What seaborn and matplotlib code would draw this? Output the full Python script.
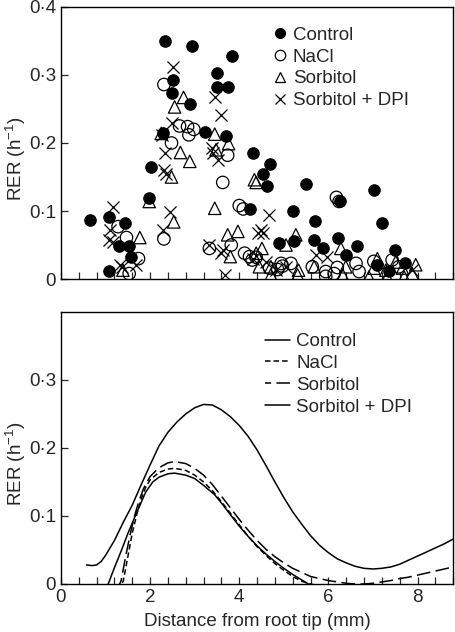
import numpy as np
import pandas as pd
import seaborn as sns
import matplotlib.pyplot as plt
from matplotlib.lines import Line2D
from matplotlib.ticker import MultipleLocator, FixedLocator

sns.set_style('ticks')
plt.rcParams['font.family'] = ['Liberation Sans', 'DejaVu Sans']
plt.rcParams['mathtext.fontset'] = 'custom'
plt.rcParams['mathtext.rm'] = 'Liberation Sans'
plt.rcParams['mathtext.default'] = 'regular'

# ---- top panel: measured RER points ----
control_x = [2.34, 2.94, 3.83, 2.51, 3.51, 3.51, 3.75, 2.48, 2.89, 3.23, 2.29, 3.71, 4.30,
             2.01, 1.98, 0.66, 1.08, 1.44, 1.30, 1.53, 1.57, 1.07, 4.24, 4.69, 4.53, 4.62,
             5.49, 7.02, 6.26, 5.21, 5.70, 7.20, 4.90, 5.23, 5.68, 6.22, 5.87, 6.64, 6.39,
             7.49, 7.73, 7.08, 7.36]
control_y = [0.350, 0.343, 0.328, 0.293, 0.303, 0.282, 0.282, 0.274, 0.257, 0.216, 0.214, 0.211, 0.185,
             0.164, 0.119, 0.087, 0.091, 0.083, 0.049, 0.049, 0.032, 0.012, 0.103, 0.169, 0.154, 0.137,
             0.140, 0.131, 0.115, 0.100, 0.085, 0.083, 0.053, 0.056, 0.058, 0.061, 0.046, 0.048, 0.036,
             0.043, 0.023, 0.020, 0.012]

nacl_x = [2.31, 2.48, 2.66, 2.84, 2.98, 2.87, 3.74, 3.63, 4.00, 4.09, 1.28, 1.47, 1.74, 2.31,
          3.33, 3.82, 4.12, 4.29, 1.53, 6.18, 6.24, 4.38, 4.94, 5.16, 5.94, 6.20, 6.62, 7.02,
          7.43, 7.58, 4.86, 5.64, 5.94, 6.69, 4.23, 4.68, 4.97, 6.13]
nacl_y = [0.286, 0.200, 0.225, 0.224, 0.220, 0.212, 0.182, 0.142, 0.108, 0.103, 0.077, 0.061, 0.030, 0.059,
          0.045, 0.050, 0.038, 0.028, 0.008, 0.120, 0.114, 0.032, 0.023, 0.023, 0.011, 0.017, 0.023, 0.026,
          0.028, 0.018, 0.014, 0.018, 0.004, 0.011, 0.033, 0.016, 0.019, 0.008]

sorb_x = [2.75, 2.55, 2.25, 3.45, 3.76, 2.68, 2.89, 2.48, 3.48, 4.34, 4.38, 1.98, 3.45, 2.53,
          1.77, 3.74, 3.97, 3.80, 1.39, 5.05, 5.27, 4.51, 6.28, 4.71, 5.33, 5.68, 6.39, 7.10,
          7.02, 7.29, 7.66, 7.96, 7.51, 4.71, 5.31, 6.32, 6.91, 7.32, 7.70, 7.88, 4.38, 4.45]
sorb_y = [0.267, 0.253, 0.214, 0.213, 0.199, 0.186, 0.173, 0.150, 0.190, 0.146, 0.142, 0.114, 0.104, 0.084,
          0.061, 0.065, 0.070, 0.033, 0.013, 0.050, 0.065, 0.045, 0.045, 0.018, 0.013, 0.018, 0.018, 0.030,
          0.016, 0.013, 0.016, 0.021, 0.025, 0.006, 0.006, 0.006, 0.003, 0.003, 0.003, 0.008, 0.038, 0.018]

dpi_x = [2.51, 3.45, 3.60, 2.48, 2.27, 2.33, 2.31, 2.36, 3.41, 3.52, 1.17, 2.44, 2.29, 1.10,
         1.08, 3.33, 3.60, 1.32, 3.67, 4.41, 4.66, 4.49, 4.54, 5.97, 5.72, 4.83, 5.05, 7.88,
         4.60, 1.17, 1.69, 1.36, 3.63, 4.30, 3.38]
dpi_y = [0.312, 0.268, 0.241, 0.229, 0.212, 0.185, 0.160, 0.155, 0.185, 0.175, 0.106, 0.099, 0.072, 0.072,
         0.057, 0.050, 0.038, 0.021, 0.006, 0.067, 0.094, 0.072, 0.067, 0.033, 0.035, 0.013, 0.018, 0.013,
         0.025, 0.055, 0.021, 0.018, 0.043, 0.030, 0.192]

# ---- bottom panel: fitted RER curves ----
ctrl_cx = [0.57, 0.7, 0.8, 0.9, 1.0, 1.2, 1.4, 1.6, 1.8, 2.0, 2.2, 2.4, 2.6, 2.8, 3.0, 3.2, 3.4, 3.6,
           3.8, 4.0, 4.2, 4.4, 4.6, 4.8, 5.0, 5.2, 5.4, 5.6, 5.8, 6.0, 6.2, 6.4, 6.6, 6.8, 7.0, 7.2,
           7.4, 7.6, 7.8, 8.0, 8.2, 8.4, 8.6, 8.8]
ctrl_cy = [0.028, 0.027, 0.028, 0.033, 0.042, 0.064, 0.091, 0.116, 0.146, 0.175, 0.203, 0.223, 0.238,
           0.250, 0.259, 0.264, 0.263, 0.256, 0.246, 0.233, 0.217, 0.197, 0.174, 0.150, 0.127, 0.106,
           0.088, 0.071, 0.057, 0.046, 0.037, 0.031, 0.026, 0.023, 0.022, 0.023, 0.025, 0.029, 0.035,
           0.041, 0.047, 0.053, 0.059, 0.066]

nacl_cx = [1.30, 1.40, 1.50, 1.60, 1.70, 1.80, 1.90, 2.00, 2.20, 2.40, 2.55, 2.80, 3.00, 3.20, 3.40,
           3.60, 3.80, 4.00, 4.20, 4.40, 4.60, 4.80, 5.00, 5.20, 5.40, 5.60, 5.80]
nacl_cy = [-0.010, 0.005, 0.040, 0.075, 0.102, 0.125, 0.142, 0.153, 0.164, 0.169, 0.170, 0.167, 0.160,
           0.150, 0.137, 0.121, 0.104, 0.087, 0.070, 0.055, 0.042, 0.030, 0.020, 0.011, 0.004, 0.000, -0.003]

sorb_cx = [1.25, 1.35, 1.45, 1.55, 1.65, 1.75, 1.85, 2.00, 2.20, 2.40, 2.55, 2.80, 3.00, 3.20, 3.40,
           3.60, 3.80, 4.00, 4.20, 4.40, 4.60, 4.80, 5.00, 5.20, 5.40, 5.60, 5.80, 6.00, 6.20, 6.40,
           6.60, 6.80, 7.00, 7.20, 7.40, 7.60, 7.80, 8.00, 8.20, 8.40, 8.60, 8.80]
sorb_cy = [-0.010, 0.005, 0.040, 0.072, 0.100, 0.122, 0.140, 0.158, 0.171, 0.178, 0.180, 0.177, 0.170,
           0.160, 0.146, 0.129, 0.112, 0.095, 0.079, 0.064, 0.051, 0.040, 0.031, 0.023, 0.017, 0.011,
           0.008, 0.005, 0.003, 0.001, 0.000, 0.000, 0.001, 0.003, 0.005, 0.008, 0.010, 0.013, 0.016,
           0.019, 0.022, 0.025]

dpi_cx = [1.00, 1.06, 1.20, 1.36, 1.50, 1.66, 1.80, 1.90, 2.06, 2.20, 2.40, 2.55, 2.80, 3.00, 3.20,
          3.45, 3.60, 3.80, 4.00, 4.20, 4.40, 4.60, 4.80, 5.00, 5.20, 5.40, 5.55, 5.70]
dpi_cy = [-0.010, 0.000, 0.024, 0.050, 0.074, 0.099, 0.120, 0.135, 0.150, 0.157, 0.162, 0.163, 0.160,
          0.155, 0.145, 0.131, 0.119, 0.102, 0.085, 0.070, 0.056, 0.044, 0.033, 0.023, 0.014, 0.006,
          0.000, -0.005]

labels = ['Control', 'NaCl', 'Sorbitol', 'Sorbitol + DPI']
fs = 13.5

fig = plt.figure(figsize=(4.55, 6.32), dpi=100)
ax1 = fig.add_axes([0.134, 0.5585, 0.862, 0.4305])
ax2 = fig.add_axes([0.134, 0.076, 0.862, 0.4305])

# scatter
sns.scatterplot(x=control_x, y=control_y, ax=ax1, marker='o', s=68, color='black', edgecolor='black', linewidth=0.8)
sns.scatterplot(x=nacl_x, y=nacl_y, ax=ax1, marker='o', s=80, facecolor='none', edgecolor='black', linewidth=0.9)
sns.scatterplot(x=sorb_x, y=sorb_y, ax=ax1, marker='^', s=80, facecolor='none', edgecolor='black', linewidth=0.9)
sns.scatterplot(x=dpi_x, y=dpi_y, ax=ax1, marker='x', s=75, color='black', linewidth=0.9)

h1 = [Line2D([], [], ls='none', marker='o', ms=7, mfc='black', mec='black'),
      Line2D([], [], ls='none', marker='o', ms=7.5, mfc='none', mec='black', mew=0.9),
      Line2D([], [], ls='none', marker='^', ms=7.5, mfc='none', mec='black', mew=0.9),
      Line2D([], [], ls='none', marker='x', ms=7, mec='black', mew=0.9)]
ax1.legend(h1, labels, loc='upper left', bbox_to_anchor=(0.51, 0.955), frameon=False,
           fontsize=fs, handletextpad=0.1, labelspacing=0.25, borderaxespad=0, handlelength=1.2)

# curves
lw = 1.1
sns.lineplot(x=ctrl_cx, y=ctrl_cy, ax=ax2, color='black', lw=lw, sort=False)
sns.lineplot(x=nacl_cx, y=nacl_cy, ax=ax2, color='black', lw=lw, linestyle=(0, (3.6, 2)), sort=False)
sns.lineplot(x=sorb_cx, y=sorb_cy, ax=ax2, color='black', lw=lw, linestyle=(0, (9, 3.5)), sort=False)
sns.lineplot(x=dpi_cx, y=dpi_cy, ax=ax2, color='black', lw=lw, sort=False)

h2 = [Line2D([], [], color='black', lw=lw),
      Line2D([], [], color='black', lw=lw, ls=(0, (3.6, 2))),
      Line2D([], [], color='black', lw=lw, ls=(5, (9, 3.5))),
      Line2D([], [], color='black', lw=lw)]
ax2.legend(h2, labels, loc='upper left', bbox_to_anchor=(0.50, 0.95), frameon=False,
           fontsize=fs, handletextpad=0.35, labelspacing=0.25, borderaxespad=0, handlelength=1.35)

for ax in (ax1, ax2):
    ax.set_xlim(0, 8.8)
    ax.set_ylim(0, 0.4)
    ax.xaxis.set_major_locator(MultipleLocator(2))
    ax.xaxis.set_minor_locator(MultipleLocator(0.4))
    ax.tick_params(which='both', direction='in', length=5, width=0.9, labelsize=fs, top=False, right=False)
    for sp in ax.spines.values():
        sp.set_visible(True)
        sp.set_linewidth(1.0)
        sp.set_color('black')
    ax.set_ylabel('RER (h$^{-1}$)', fontsize=fs)
    ax.yaxis.set_label_coords(-0.085, 0.44)

ax1.yaxis.set_major_locator(FixedLocator([0, 0.1, 0.2, 0.3, 0.4]))
ax1.set_yticklabels(['0', '0·1', '0·2', '0·3', '0·4'])
ax1.tick_params(axis='x', labelbottom=False)

ax2.yaxis.set_major_locator(FixedLocator([0, 0.1, 0.2, 0.3]))
ax2.set_yticklabels(['0', '0·1', '0·2', '0·3'])
ax2.set_xticks([0, 2, 4, 6, 8])
ax2.set_xticklabels(['0', '2', '4', '6', '8'])
ax2.set_xlabel('Distance from root tip (mm)', fontsize=fs, labelpad=5)

fig.savefig('out.png', dpi=100)
